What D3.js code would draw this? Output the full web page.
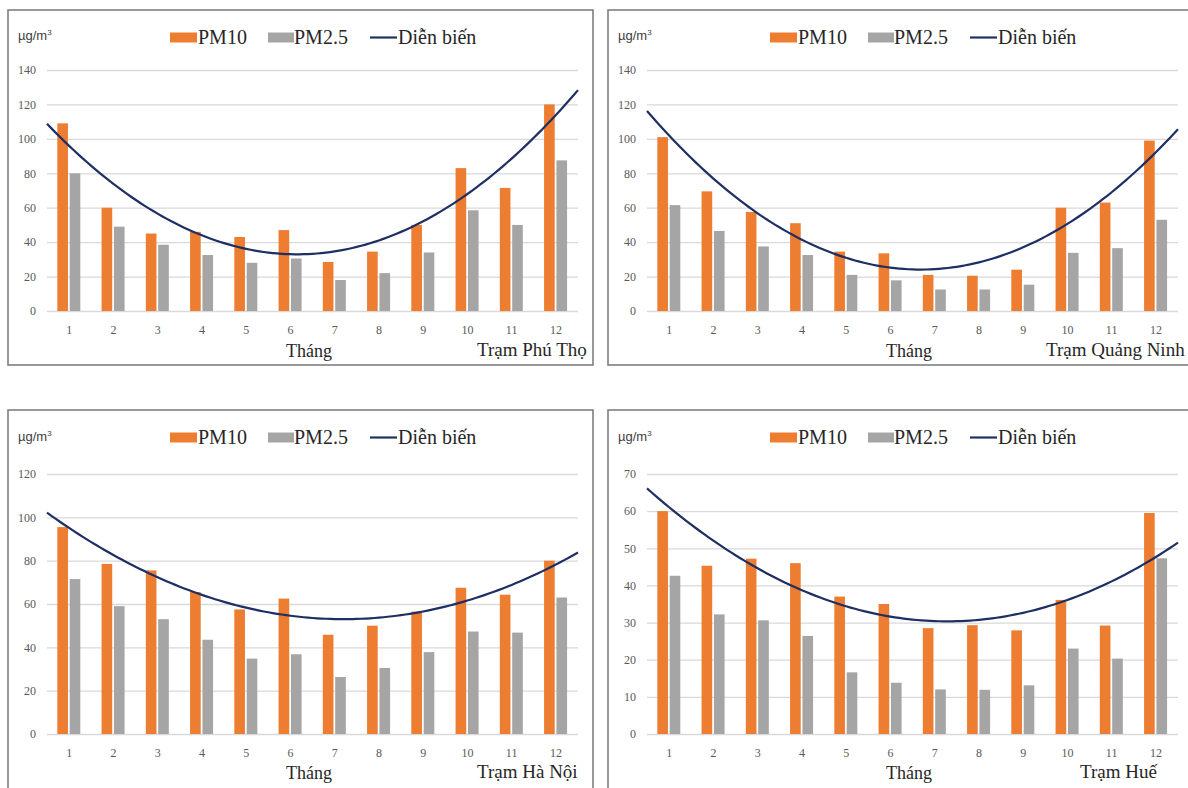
<!DOCTYPE html>
<html>
<head>
<meta charset="utf-8">
<script src="https://cdn.jsdelivr.net/npm/d3@7"></script>
<style>
  body { margin: 0; background: #fff; }
  svg { display: block; }
  .serif { font-family: "Liberation Serif", "Times New Roman", "DejaVu Serif", serif; }
  .sans { font-family: "Liberation Sans", Arial, sans-serif; }
</style>
</head>
<body>
<div id="graphic"></div>
<script>
// data (µg/m3, monthly means)
var months = [1, 2, 3, 4, 5, 6, 7, 8, 9, 10, 11, 12];
var seriesNames = ["PM10", "PM2.5", "Diễn biến"];
var stations = ["Trạm Phú Thọ", "Trạm Quảng Ninh", "Trạm Hà Nội", "Trạm Huế"];

var pm10PhuTho = [109, 60, 45, 46, 43, 47, 28.5, 34.5, 50, 83, 71.5, 120];
var pm25PhuTho = [80, 49, 38.5, 32.5, 28, 30.5, 18, 22, 34, 58.5, 50, 87.5];

var pm10QuangNinh = [101, 69.5, 57.5, 51, 34.5, 33.5, 21, 20.5, 24, 60, 63, 99];
var pm25QuangNinh = [61.5, 46.5, 37.5, 32.5, 21, 17.8, 12.5, 12.5, 15.3, 33.8, 36.5, 53];

var pm10HaNoi = [95.5, 78.5, 75.5, 65.5, 57.5, 62.5, 45.8, 50, 56.5, 67.5, 64.3, 80];
var pm25HaNoi = [71.5, 59, 53, 43.5, 34.8, 36.8, 26.3, 30.5, 37.8, 47.3, 46.8, 63];

var pm10Hue = [60, 45.3, 47.2, 46, 37, 35, 28.5, 29.3, 27.9, 36.1, 29.2, 59.5];
var pm25Hue = [42.6, 32.2, 30.6, 26.4, 16.6, 13.8, 12, 11.9, 13.1, 23, 20.3, 47.3];

var yTicks140 = [0, 20, 40, 60, 80, 100, 120, 140];
var yTicks120 = [0, 20, 40, 60, 80, 100, 120];
var yTicks70 = [0, 10, 20, 30, 40, 50, 60, 70];

var unitLabel = "µg/m";
var xTitle = "Tháng";

// layout only
var W = 1188, H = 788;
var colors = { pm10: "#ed7d31", pm25: "#a5a5a5", trend: "#1f2f63" };
var topRow = { y: 10, h: 355, legendY: 37, unitY: 40, plotTop: 70, plotBottom: 311, titleY: 357 };
var botRow = { y: 410, h: 400, legendY: 437, unitY: 441, plotTop: 474, plotBottom: 734, titleY: 779 };

var panels = [
  { dx: 0,   row: topRow, pm10: pm10PhuTho,    pm25: pm25PhuTho,    ticks: yTicks140, name: stations[0], nameX: 477 },
  { dx: 600, row: topRow, pm10: pm10QuangNinh, pm25: pm25QuangNinh, ticks: yTicks140, name: stations[1], nameX: 446 },
  { dx: 0,   row: botRow, pm10: pm10HaNoi,     pm25: pm25HaNoi,     ticks: yTicks120, name: stations[2], nameX: 477 },
  { dx: 600, row: botRow, pm10: pm10Hue,       pm25: pm25Hue,       ticks: yTicks70,  name: stations[3], nameX: 480 }
];

// Excel style 2nd order polynomial trendline (least squares)
function polyfit2(xs, ys) {
  var s = [0, 0, 0, 0, 0], t = [0, 0, 0];
  xs.forEach(function(x, i) {
    var p = 1;
    for (var k = 0; k < 5; k++) { s[k] += p; if (k < 3) t[k] += p * ys[i]; p *= x; }
  });
  var A = [[s[0], s[1], s[2], t[0]], [s[1], s[2], s[3], t[1]], [s[2], s[3], s[4], t[2]]];
  for (var c = 0; c < 3; c++) {
    for (var r = c + 1; r < 3; r++) {
      var f = A[r][c] / A[c][c];
      for (var j = c; j < 4; j++) A[r][j] -= f * A[c][j];
    }
  }
  var b = [0, 0, 0];
  for (var r2 = 2; r2 >= 0; r2--) {
    var v = A[r2][3];
    for (var j2 = r2 + 1; j2 < 3; j2++) v -= A[r2][j2] * b[j2];
    b[r2] = v / A[r2][r2];
  }
  return function(x) { return b[0] + b[1] * x + b[2] * x * x; };
}

var svg = d3.select("#graphic").append("svg").attr("width", W).attr("height", H);

panels.forEach(function(p) {
  var row = p.row;
  var g = svg.append("g").attr("transform", "translate(" + p.dx + ",0)");
  var left = 47, right = 578;

  g.append("rect")
    .attr("x", 8).attr("y", row.y).attr("width", 585).attr("height", row.h)
    .attr("fill", "#fff").attr("stroke", "#7f7f7f").attr("stroke-width", 1.6);

  var x0 = d3.scaleBand().domain(months).range([left, right]);
  var bw = x0.bandwidth();
  var x1 = d3.scaleBand().domain(["pm10", "pm25"]).range([bw / 2 - 11.8, bw / 2 + 11.2]).paddingInner(0.14);
  var xt = d3.scaleLinear().domain([0.5, 12.5]).range([left, right]);
  var y = d3.scaleLinear().domain([0, d3.max(p.ticks)]).range([row.plotBottom, row.plotTop]);

  // gridlines + y labels
  var ya = g.append("g").attr("transform", "translate(" + left + ",0)")
    .call(d3.axisLeft(y).tickValues(p.ticks).tickSize(-(right - left)).tickPadding(11));
  ya.select(".domain").remove();
  ya.selectAll("line").attr("stroke", "#d9d9d9").attr("stroke-width", 1.3);
  ya.attr("font-family", null).attr("font-size", null);
  ya.selectAll("text").attr("class", "serif").attr("fill", "#595959").style("font-size", "12px");

  // month labels
  var xa = g.append("g").attr("transform", "translate(0," + row.plotBottom + ")")
    .call(d3.axisBottom(x0).tickSize(0).tickPadding(14));
  xa.select(".domain").remove();
  xa.attr("font-family", null).attr("font-size", null);
  xa.selectAll("text").attr("class", "serif").attr("fill", "#595959").style("font-size", "12px");

  // bars
  var groups = g.selectAll("g.month").data(months).enter().append("g")
    .attr("class", "month")
    .attr("transform", function(d) { return "translate(" + x0(d) + ",0)"; });
  groups.append("rect")
    .attr("x", x1("pm10")).attr("width", x1.bandwidth())
    .attr("y", function(d, i) { return y(p.pm10[i]); })
    .attr("height", function(d, i) { return y(0) - y(p.pm10[i]); })
    .attr("fill", colors.pm10);
  groups.append("rect")
    .attr("x", x1("pm25")).attr("width", x1.bandwidth())
    .attr("y", function(d, i) { return y(p.pm25[i]); })
    .attr("height", function(d, i) { return y(0) - y(p.pm25[i]); })
    .attr("fill", colors.pm25);

  // trendline on PM10
  var fit = polyfit2(months, p.pm10);
  var xs = d3.range(0.5, 12.51, 0.1);
  g.append("path")
    .datum(xs)
    .attr("fill", "none").attr("stroke", colors.trend).attr("stroke-width", 2.2)
    .attr("d", d3.line().x(function(d) { return xt(d); }).y(function(d) { return y(fit(d)); }));

  // unit label
  var u = g.append("text").attr("class", "sans").attr("x", 18).attr("y", row.unitY)
    .attr("fill", "#404040").style("font-size", "13px")
    .text(unitLabel);
  u.append("tspan").attr("dy", -5).style("font-size", "8px").text("3");

  // legend
  var lg = g.append("g").attr("transform", "translate(0," + row.legendY + ")");
  var legendFont = function(t) {
    return t.attr("class", "serif").attr("fill", "#262626").style("font-size", "20px").attr("dy", "0.35em");
  };
  lg.append("rect").attr("x", 170).attr("y", -4.5).attr("width", 27).attr("height", 10).attr("fill", colors.pm10);
  lg.append("text").attr("x", 198).call(legendFont).text(seriesNames[0]);
  lg.append("rect").attr("x", 268).attr("y", -4.5).attr("width", 26).attr("height", 10).attr("fill", colors.pm25);
  lg.append("text").attr("x", 294).call(legendFont).text(seriesNames[1]);
  lg.append("line").attr("x1", 370).attr("x2", 397).attr("y1", 0.5).attr("y2", 0.5)
    .attr("stroke", colors.trend).attr("stroke-width", 2.2);
  lg.append("text").attr("x", 398).call(legendFont).text(seriesNames[2]);

  // axis title + station
  g.append("text").attr("class", "serif").attr("x", 309).attr("y", row.titleY).attr("text-anchor", "middle")
    .attr("fill", "#262626").style("font-size", "18px")
    .text(xTitle);
  g.append("text").attr("class", "serif").attr("x", p.nameX).attr("y", row.titleY - 1)
    .attr("fill", "#262626").style("font-size", "19px")
    .text(p.name);
});
</script>
</body>
</html>
